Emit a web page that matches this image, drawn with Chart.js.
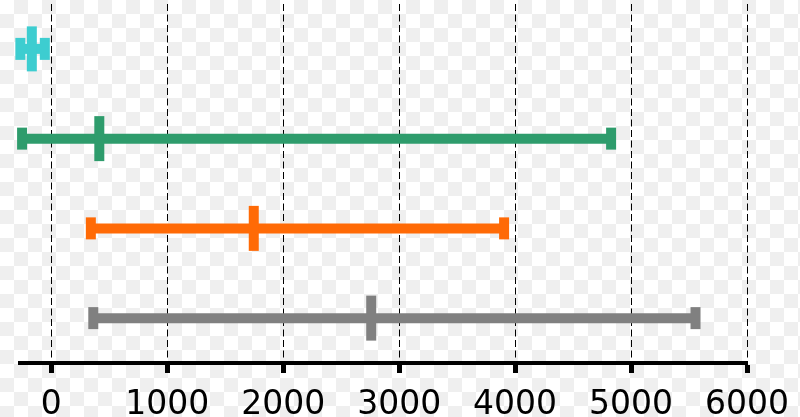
<!DOCTYPE html>
<html>
<head>
<meta charset="utf-8">
<script src="https://cdn.jsdelivr.net/npm/chart.js@4"></script>
<style>
  html, body { margin: 0; padding: 0; }
  body {
    width: 800px; height: 417px;
    background-color: #fff;
    background-image: conic-gradient(#efefef 25%, #fff 0 50%, #efefef 0 75%, #fff 0);
    background-size: 28px 28px;
  }
  #wrap { position: relative; width: 800px; height: 417px; }
</style>
</head>
<body>
<div id="wrap"><canvas id="chart"></canvas></div>
<script>
// rows, top to bottom
const rows = ['A', 'B', 'C', 'D'];
const colors = ['#3dcdd0', '#2e9c6c', '#ff6a06', '#808080'];
// each row: low whisker, median, high whisker
const lows = [-267, -252, 341, 362];
const medians = [-168, 414, 1746, 2759];
const highs = [-56, 4828, 3905, 5556];
const xTicks = [0, 1000, 2000, 3000, 4000, 5000, 6000];

const datasets = rows.map((row, i) => ({
  data: [
    { x: lows[i], y: row },
    { x: medians[i], y: row },
    { x: highs[i], y: row }
  ],
  showLine: true,
  borderColor: colors[i],
  backgroundColor: colors[i],
  borderWidth: 10,
  borderCapStyle: 'butt',
  pointStyle: 'line',
  rotation: 90,
  pointRadius: [11, 22.5, 11],
  pointBorderWidth: 10,
  pointBorderColor: colors[i],
  pointHoverRadius: [11, 22.5, 11],
  clip: false
}));

new Chart(document.getElementById('chart'), {
  type: 'scatter',
  data: { labels: rows, datasets: datasets },
  options: {
    responsive: true,
    maintainAspectRatio: false,
    animation: false,
    // negative bottom pulls the tick labels down towards the edge
    layout: { autoPadding: false, padding: { left: 20, right: 53, top: 4, bottom: -21 } },
    plugins: { legend: { display: false }, tooltip: { enabled: false } },
    scales: {
      x: {
        type: 'linear',
        min: -270,
        max: 6000,
        afterBuildTicks: axis => { axis.ticks = xTicks.map(v => ({ value: v })); },
        afterFit: axis => { axis.paddingLeft = 0; axis.paddingRight = 0; },
        ticks: {
          includeBounds: false,
          color: '#000',
          padding: 16,
          maxRotation: 0,
          font: { family: 'DejaVu Sans', size: 33, lineHeight: 1 },
          callback: v => String(v)
        },
        grid: {
          color: '#000',
          lineWidth: 1,
          tickColor: '#000',
          tickWidth: 5,
          tickLength: 10,
          tickBorderDash: []
        },
        border: { display: true, color: '#000', width: 4, dash: [7, 3.5] }
      },
      y: {
        type: 'category',
        labels: rows,
        offset: true,
        display: false
      }
    }
  }
});
</script>
</body>
</html>
